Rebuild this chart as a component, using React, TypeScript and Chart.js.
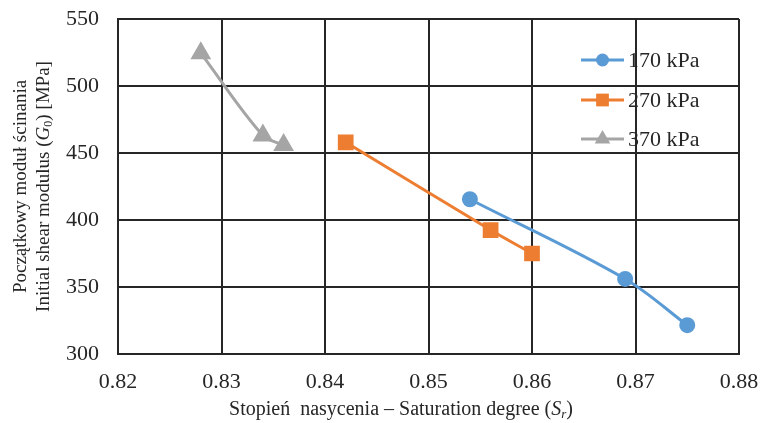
import React, { useEffect, useRef } from "react";
import { Chart, registerables } from "chart.js";

Chart.register(...registerables);

const seriesLabels = ["170 kPa", "270 kPa", "370 kPa"];
const sr170 = [0.854, 0.869, 0.875];
const g170 = [415.5, 356, 321.5];
const sr270 = [0.842, 0.856, 0.86];
const g270 = [458, 392.5, 375];
const sr370 = [0.828, 0.834, 0.836];
const g370 = [524.5, 463, 456];
const xTicks = [0.82, 0.83, 0.84, 0.85, 0.86, 0.87, 0.88];
const yTicks = [300, 350, 400, 450, 500, 550];

const colors = ["#5B9BD5", "#ED7D31", "#A5A5A5"];
const markers = ["circle", "rect", "triangle"];
const markerRadius = [6.5, 9, 9];
const FONT = "'Liberation Serif', 'Times New Roman', serif";

type Seg = { text: string; italic?: boolean; sub?: boolean };

function drawRich(ctx: CanvasRenderingContext2D, segs: Seg[], x: number, y: number, size: number) {
  const fontFor = (s: Seg) => `${s.italic ? "italic " : ""}${s.sub ? Math.round(size * 0.65) : size}px ${FONT}`;
  let total = 0;
  for (const s of segs) {
    ctx.font = fontFor(s);
    total += ctx.measureText(s.text).width;
  }
  let cx = x - total / 2;
  ctx.textAlign = "left";
  ctx.textBaseline = "middle";
  for (const s of segs) {
    ctx.font = fontFor(s);
    ctx.fillText(s.text, cx, s.sub ? y + size * 0.25 : y);
    cx += ctx.measureText(s.text).width;
  }
}

function drawMarker(ctx: CanvasRenderingContext2D, style: string, r: number, x: number, y: number, color: string) {
  ctx.fillStyle = color;
  ctx.beginPath();
  if (style === "circle") {
    ctx.arc(x, y, r, 0, Math.PI * 2);
  } else if (style === "rect") {
    const h = r * Math.SQRT1_2;
    ctx.rect(x - h, y - h, 2 * h, 2 * h);
  } else {
    const rad = r;
    ctx.moveTo(x, y - rad);
    ctx.lineTo(x + rad * Math.cos(Math.PI / 6), y + rad / 2);
    ctx.lineTo(x - rad * Math.cos(Math.PI / 6), y + rad / 2);
    ctx.closePath();
  }
  ctx.fill();
}

const extrasPlugin = {
  id: "extras",
  afterDraw(chart: any) {
    const ctx = chart.ctx as CanvasRenderingContext2D;
    const area = chart.chartArea;
    ctx.save();
    ctx.fillStyle = "#262626";
    const cy = (area.top + area.bottom) / 2;
    ctx.save();
    ctx.translate(21, cy);
    ctx.rotate(-Math.PI / 2);
    drawRich(ctx, [{ text: "Początkowy moduł ścinania" }], 0, 0, 19);
    ctx.restore();
    ctx.save();
    ctx.translate(44, cy);
    ctx.rotate(-Math.PI / 2);
    drawRich(
      ctx,
      [{ text: "Initial shear modulus (" }, { text: "G", italic: true }, { text: "0", sub: true }, { text: ") [MPa]" }],
      0,
      0,
      19
    );
    ctx.restore();
    ctx.fillStyle = "#262626";
    drawRich(
      ctx,
      [
        { text: "Stopień  nasycenia – Saturation degree (" },
        { text: "S", italic: true },
        { text: "r", italic: true, sub: true },
        { text: ")" },
      ],
      401,
      410,
      20
    );
    const lx = area.right - 158;
    const ys = [area.top + 41, area.top + 81, area.top + 120];
    chart.data.datasets.forEach((ds: any, i: number) => {
      const y = ys[i];
      ctx.strokeStyle = colors[i];
      ctx.lineWidth = 3;
      ctx.beginPath();
      ctx.moveTo(lx, y);
      ctx.lineTo(lx + 43, y);
      ctx.stroke();
      drawMarker(ctx, markers[i], markerRadius[i], lx + 21.5, y, colors[i]);
      ctx.fillStyle = "#262626";
      ctx.font = `22px ${FONT}`;
      ctx.textAlign = "left";
      ctx.textBaseline = "middle";
      ctx.fillText(ds.label, lx + 47, y + 1);
    });
    ctx.restore();
  },
};

export default function App() {
  const ref = useRef<HTMLCanvasElement>(null);
  useEffect(() => {
    document.body.style.margin = "0";
    const xs = [sr170, sr270, sr370];
    const ys = [g170, g270, g370];
    const chart = new Chart(ref.current!, {
      type: "line",
      data: {
        datasets: seriesLabels.map((label, i) => ({
          label,
          data: xs[i].map((x, j) => ({ x, y: ys[i][j] })),
          borderColor: colors[i],
          backgroundColor: colors[i],
          pointBackgroundColor: colors[i],
          pointBorderColor: colors[i],
          pointStyle: markers[i] as any,
          pointRadius: markerRadius[i],
          borderWidth: 3,
          tension: 0.35,
          fill: false,
        })),
      },
      options: {
        animation: false,
        responsive: false,
        maintainAspectRatio: false,
        layout: { padding: { top: 19, right: 21, left: 0, bottom: 0 } },
        plugins: { legend: { display: false }, tooltip: { enabled: false } },
        scales: {
          x: {
            type: "linear",
            min: 0.82,
            max: 0.88,
            afterBuildTicks: (s: any) => {
              s.ticks = xTicks.map((v) => ({ value: v }));
            },
            afterFit: (s: any) => {
              s.height = 69;
              s.paddingLeft = 0;
              s.paddingRight = 0;
              s.paddingTop = 0;
              s.paddingBottom = 0;
            },
            grid: { color: "#262626", lineWidth: 2, drawTicks: false },
            border: { color: "#262626", width: 2 },
            ticks: {
              padding: 15,
              color: "#262626",
              font: { family: FONT, size: 22 },
              callback: (v: any) => Number(v).toFixed(2),
              maxRotation: 0,
            },
          },
          y: {
            type: "linear",
            min: 300,
            max: 550,
            afterBuildTicks: (s: any) => {
              s.ticks = yTicks.map((v) => ({ value: v }));
            },
            afterFit: (s: any) => {
              s.width = 118;
              s.paddingLeft = 0;
              s.paddingRight = 0;
              s.paddingTop = 0;
              s.paddingBottom = 0;
            },
            grid: { color: "#262626", lineWidth: 2, drawTicks: false },
            border: { color: "#262626", width: 2 },
            ticks: {
              padding: 19,
              color: "#262626",
              font: { family: FONT, size: 22 },
            },
          },
        },
      },
      plugins: [extrasPlugin],
    } as any);
    return () => chart.destroy();
  }, []);
  return <canvas ref={ref} width={760} height={423} style={{ display: "block" }} />;
}
